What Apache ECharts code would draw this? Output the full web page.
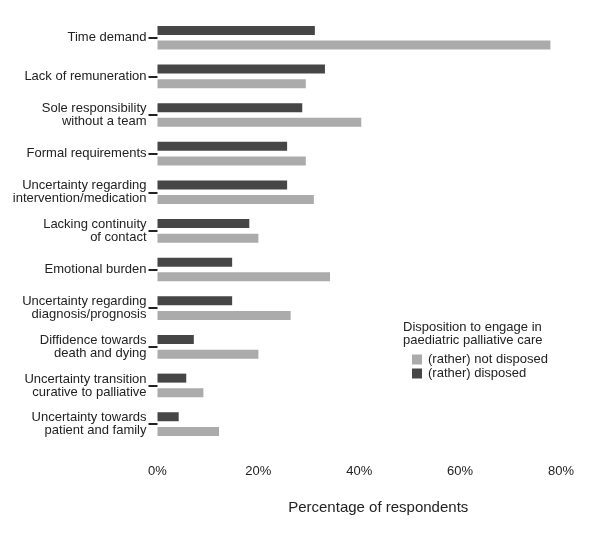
<!DOCTYPE html>
<html>
<head>
<meta charset="utf-8">
<script src="https://cdn.jsdelivr.net/npm/echarts@6/dist/echarts.min.js"></script>
<style>
  html, body { margin: 0; padding: 0; background: #fff; }
  #chart { width: 600px; height: 541px; }
</style>
</head>
<body>
<div id="chart"></div>
<script>
// barriers, top to bottom
const categories = [
  'Time demand',
  'Lack of remuneration',
  'Sole responsibility\nwithout a team',
  'Formal requirements',
  'Uncertainty regarding\nintervention/medication',
  'Lacking continuity\nof contact',
  'Emotional burden',
  'Uncertainty regarding\ndiagnosis/prognosis',
  'Diffidence towards\ndeath and dying',
  'Uncertainty transition\ncurative to palliative',
  'Uncertainty towards\npatient and family'
]

// percent of respondents
const disposed = [31.2, 33.2, 28.7, 25.7, 25.7, 18.2, 14.8, 14.8, 7.2, 5.7, 4.2]
const notDisposed = [77.9, 29.4, 40.4, 29.4, 31.0, 20.0, 34.2, 26.4, 20.0, 9.1, 12.2]

const xTicks = [0, 20, 40, 60, 80]

const font = "'Liberation Sans', Arial, sans-serif"
const DARK = '#464646'
const LIGHT = '#ababab'

const chart = echarts.init(document.getElementById('chart'))

chart.setOption({
  animation: false,
  textStyle: { fontFamily: font },
  title: {
    text: 'Disposition to engage in\npaediatric palliative care',
    left: 398,
    top: 316,
    textStyle: { fontFamily: font, fontSize: 13, fontWeight: 'normal', color: '#222', lineHeight: 13 }
  },
  legend: {
    orient: 'vertical',
    left: 407,
    top: 348,
    itemWidth: 10,
    itemHeight: 10,
    itemGap: 1,
    icon: 'rect',
    data: ['(rather) not disposed', '(rather) disposed'],
    textStyle: { fontFamily: font, fontSize: 13, color: '#222', padding: [0, 0, 0, 1] }
  },
  grid: {
    left: 157.5,
    right: 39,
    top: 18.4,
    bottom: 97.6,
    containLabel: false
  },
  xAxis: {
    type: 'value',
    min: xTicks[0],
    max: xTicks[xTicks.length - 1],
    interval: 20,
    name: 'Percentage of respondents',
    nameLocation: 'middle',
    nameGap: 57,
    nameTextStyle: { fontFamily: font, fontSize: 15, color: '#222', padding: [0, 0, 0, 38] },
    axisLine: { show: false },
    axisTick: { show: false },
    splitLine: { show: false },
    axisLabel: {
      margin: 22,
      fontSize: 13,
      color: '#222',
      fontFamily: font,
      formatter: (v) => v + '%'
    }
  },
  yAxis: {
    type: 'category',
    inverse: true,
    data: categories,
    axisLine: { show: false },
    axisTick: {
      show: true,
      alignWithLabel: true,
      length: 9,
      lineStyle: { color: '#222', width: 2 }
    },
    axisLabel: {
      margin: 11,
      fontSize: 13,
      lineHeight: 13,
      color: '#222',
      fontFamily: font,
      align: 'right'
    },
    splitLine: { show: false }
  },
  series: [
    {
      name: '(rather) disposed',
      type: 'bar',
      data: disposed,
      barWidth: 9,
      barGap: '63%',
      itemStyle: { color: DARK }
    },
    {
      name: '(rather) not disposed',
      type: 'bar',
      data: notDisposed,
      barWidth: 9,
      barGap: '63%',
      itemStyle: { color: LIGHT }
    }
  ]
})
</script>
</body>
</html>
